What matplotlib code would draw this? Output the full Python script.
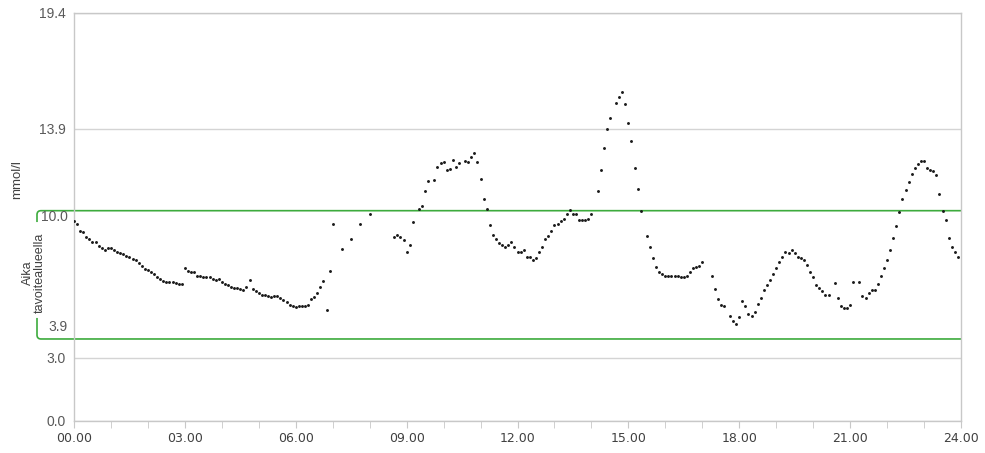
import numpy as np
import matplotlib
matplotlib.use("Agg")
import matplotlib.pyplot as plt
import matplotlib.transforms as mtransforms
from matplotlib.path import Path
from matplotlib.patches import PathPatch
from matplotlib import font_manager

plt.rcParams['font.family'] = ['Liberation Sans', 'DejaVu Sans']

# Glukoosi (mmol/l), lukemat 5 min välein, None = puuttuva lukema
yo_alku = 0  # minuuttia
yo = [9.51, 9.35, 9.05, 9.0, 8.73, 8.67, 8.50, 8.50, 8.34, 8.21, 8.15, 8.21,
      8.21, 8.12, 8.05, 8.0, 7.94, 7.85, 7.80, 7.72, 7.66, 7.50, 7.37, 7.23,
      7.18, 7.10, 6.97, 6.86, 6.77, 6.66, 6.61, 6.61, 6.59, 6.55, 6.50, 6.50]

aamu_alku = 180
aamu = [7.29, 7.13, 7.07, 7.07, 6.89, 6.88, 6.83, 6.83, 6.83, 6.75, 6.69, 6.75,
        6.59, 6.53, 6.47, 6.39, 6.34, 6.34, 6.29, 6.23, 6.39, 6.69, 6.29, 6.17,
        6.07, 6.01, 5.98, 5.96, 5.91, 5.96, 5.96, 5.86, 5.75, 5.66, 5.50, 5.48,
        5.44, 5.48, 5.48, 5.48, 5.53, 5.79, 5.91, 6.09, 6.37, 6.67, 5.28, 7.12]

# harvemmat lukemat 15 min välein
harva_ajat = [420, 435, 450, 465, 480]
harva = [9.38, 8.16, 8.65, 9.38, 9.83]

paiva_alku = 520
paiva = [8.77, 8.83, 8.77, 8.61, 8.05, 8.38, 9.45, None, 10.10, 10.21, 10.94, 11.43,
         None, 11.48, 12.09, 12.25, 12.30, 11.92, 11.98, 12.43, 12.09, 12.25, None, 12.38,
         12.30, 12.54, 12.76, 12.30, 11.49, 10.54, 10.10, 9.34, 8.83, 8.65, 8.45, 8.38,
         8.27, 8.38, 8.50, 8.27, 8.05, 8.05, 8.12, 7.78, 7.78, 7.67, 7.75,
         8.05, 8.29, 8.67, 8.80, 9.05, 9.30, 9.38, 9.50, 9.62, 9.83, 10.05, 9.83,
         9.83, 9.56, 9.56, 9.56, 9.62, 9.83, None, 10.95, 11.94, 12.98, 13.87, 14.42,
         None, 15.14, 15.42, 15.64, 15.09, 14.16, 13.31, 12.05, 11.05, 10.0, None, 8.78,
         8.29, 7.77, 7.34, 7.10, 6.99, 6.89, 6.89, 6.89, 6.89, 6.89, 6.85, 6.85,
         6.89, 7.10, 7.26, 7.31, 7.39, 7.56]

ilta_alku = 1035
ilta = [6.90, 6.28, 5.79, 5.52, 5.45, None, 5.01, 4.74, 4.61, 4.95, 5.69, 5.45,
        5.07, 5.01, 5.18, 5.56, 5.85, 6.23, 6.47, 6.72, 6.97, 7.29, 7.55, 7.78,
        8.04, 7.99, 8.12, 7.99, 7.78, 7.74, 7.67, 7.40, 7.07, 6.85, 6.45, 6.34,
        6.18, 6.01, 6.01, None, 6.58, 5.83, 5.45, 5.39, 5.39, 5.52, 6.62, None,
        6.62, 5.94, 5.86, 6.07, 6.23, 6.23, 6.50, 6.89, 7.28, 7.67, 8.12, 8.72,
        9.27, 9.94, 10.54, 10.98, 11.38, 11.76, 12.03, 12.22, 12.38, 12.38, 12.05, 11.95,
        11.87, 11.71, 10.78, 10.0, 9.54, 8.72, 8.29, 8.05, 7.78]

y_ticks = [0.0, 3.0, 13.9, 19.4]
tavoite_ala = 3.9
tavoite_yla = 10.0
x_ticks = list(range(0, 25, 3))
x_labels = ["%02d.00" % h for h in x_ticks]

W, H = 985, 453
fig = plt.figure(figsize=(W / 100, H / 100), dpi=100)
ax = fig.add_axes([74 / W, 1 - 421 / H, 887 / W, 408 / H])

harmaa = '#c8c8c8'
vihrea = '#3dab3d'
piste = '#1a1a1a'


def piirra(alku, arvot, vali=5):
    v = np.array([np.nan if a is None else a for a in arvot], dtype=float)
    t = (alku + vali * np.arange(len(v))) / 60.0
    ax.plot(t, v, 'o', ms=2.1, color=piste, mec=piste, mew=0, zorder=3)


piirra(yo_alku, yo)
piirra(aamu_alku, aamu)
ax.plot(np.array(harva_ajat) / 60.0, harva, 'o', ms=2.1, color=piste, mew=0, zorder=3)
piirra(paiva_alku, paiva)
piirra(ilta_alku, ilta)

ax.set_xlim(0, 24)
ax.set_ylim(0, 19.4)

ax.set_yticks(y_ticks)
ax.set_yticklabels(["%.1f" % y for y in y_ticks])
ax.yaxis.grid(True, color='#d4d4d4', lw=1)
ax.set_axisbelow(True)
ax.tick_params(axis='y', length=0, pad=6, labelsize=10, labelcolor='#595959')

# kapea fontti aika-akselille, jos löytyy
nimet = {f.name for f in font_manager.fontManager.ttflist}
if 'Liberation Sans Narrow' in nimet:
    x_fontti, x_koko = ['Liberation Sans Narrow'], 11.5
else:
    x_fontti, x_koko = ['DejaVu Sans'], 9.0

ax.set_xticks(x_ticks)
ax.set_xticklabels(x_labels, family=x_fontti, fontsize=x_koko, color='#404040')
ax.set_xticks(range(25), minor=True)
ax.tick_params(axis='x', which='both', length=5, color=harmaa, direction='out', pad=3)

for s in ax.spines.values():
    s.set_color(harmaa)
    s.set_linewidth(1)

# tavoitealueen hakasulku
tr = mtransforms.blended_transform_factory(ax.transAxes, ax.transData)
x0 = (37 - 74) / 887
rx = 4 / 887
ry = 4 / 21.03
ylos = Path([(1, tavoite_yla), (x0 + rx, tavoite_yla), (x0, tavoite_yla),
             (x0, tavoite_yla - ry), (x0, 9.46)],
            [Path.MOVETO, Path.LINETO, Path.CURVE3, Path.CURVE3, Path.LINETO])
alas = Path([(x0, 4.90), (x0, tavoite_ala + ry), (x0, tavoite_ala),
             (x0 + rx, tavoite_ala), (1, tavoite_ala)],
            [Path.MOVETO, Path.LINETO, Path.CURVE3, Path.CURVE3, Path.LINETO])
for p in (ylos, alas):
    ax.add_patch(PathPatch(p, fill=False, edgecolor=vihrea, lw=1.2,
                           transform=tr, clip_on=False, zorder=2))

ax.text(-6 / 887, 9.70, "%.1f" % tavoite_yla, transform=tr, ha='right', va='center',
        fontsize=10, color='#595959')
ax.text(-6 / 887, 4.47, "%.1f" % tavoite_ala, transform=tr, ha='right', va='center',
        fontsize=10, color='#595959')

fig.text(34 / W, 1 - 273 / H, "Aika\ntavoitealueella", rotation=90, ha='center',
         va='center', multialignment='center', fontsize=9, color='#404040',
         linespacing=1.05)
fig.text(17 / W, 1 - 180 / H, "mmol/l", rotation=90, ha='center', va='center',
         fontsize=9.5, color='#404040')

fig.savefig("out.png", dpi=100)
